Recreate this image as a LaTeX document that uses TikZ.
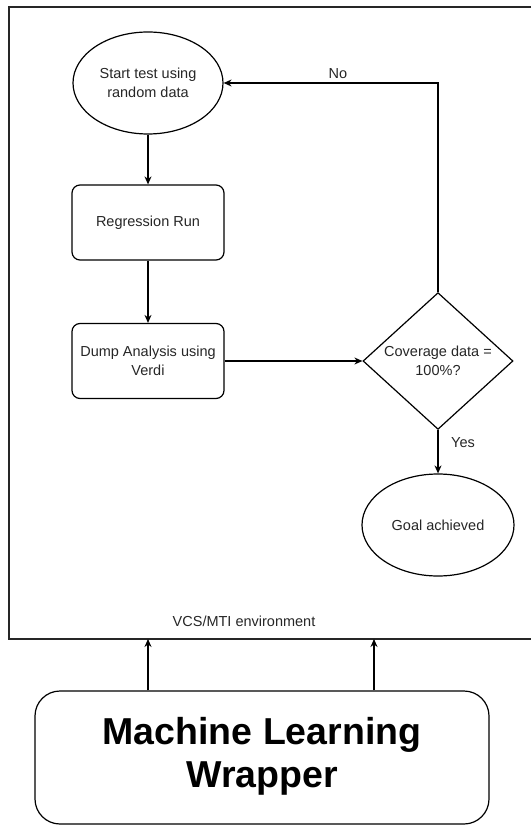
\documentclass[tikz,border=0pt]{standalone}
\usepackage{fontspec}
\setmainfont{Liberation Sans}
\usetikzlibrary{shapes.geometric,arrows.meta}

\tikzset{
  lbl/.style={font=\fontsize{14.5}{18.5}\selectfont, text=black!85, align=center},
  roundbox/.style={lbl, draw, line width=1.2pt, rounded corners=8pt, minimum width=152pt, minimum height=75pt, inner sep=0pt},
  oval/.style={lbl, draw, line width=1.2pt, ellipse, inner sep=0pt},
  decision/.style={lbl, draw, line width=1.2pt, diamond, minimum width=150pt, minimum height=125pt, inner sep=0pt},
  flow/.style={line width=1.2pt, -{Stealth[length=8pt,width=7pt]}},
  frame/.style={line width=1.8pt, draw=black!85},
}

\begin{document}
\begin{tikzpicture}[x=1pt, y=-1pt]
  \useasboundingbox (0,0) rectangle (531,826);

  % environment frame (open to the right)
  \draw[frame] (531,7) -- (9,7) -- (9,639) -- (531,639);
  \coordinate (envA) at (148,639);
  \coordinate (envB) at (374,639);
  \node[lbl] (envlbl) at (244,621) {VCS/MTI environment};

  % flow inside the environment
  \node[oval, minimum width=150pt, minimum height=102pt] (start) at (148,83) {Start test using\\random data};
  \node[roundbox] (reg) at (148,222.5) {Regression Run};
  \node[roundbox] (dump) at (148,361) {Dump Analysis using\\Verdi};
  \node[decision] (cov) at (438,361) {Coverage data =\\100\%?};
  \node[oval, minimum width=152pt, minimum height=102pt] (goal) at (438,525) {Goal achieved};

  \draw[flow] (start) -- (reg);
  \draw[flow] (reg) -- (dump);
  \draw[flow] (dump) -- (cov);
  \draw[flow] (cov.north) |- (start.east);
  \draw[flow] (cov) -- (goal);
  \node[lbl] (nolbl) at (338,74) {No};
  \node[lbl] (yeslbl) at (463,443) {Yes};

  % wrapper below the environment
  \node[draw, line width=1.2pt, rounded corners=25pt, minimum width=454pt, minimum height=133pt,
        inner sep=0pt, font=\fontsize{37.5}{43}\selectfont\bfseries, text=black] (ml) at (262,757.5)
        {\raisebox{-7pt}{\begin{tabular}{@{}c@{}}Machine Learning\\Wrapper\end{tabular}}};
  \draw[flow] (ml.north -| envA) -- (envA);
  \draw[flow] (ml.north -| envB) -- (envB);
\end{tikzpicture}
\end{document}
